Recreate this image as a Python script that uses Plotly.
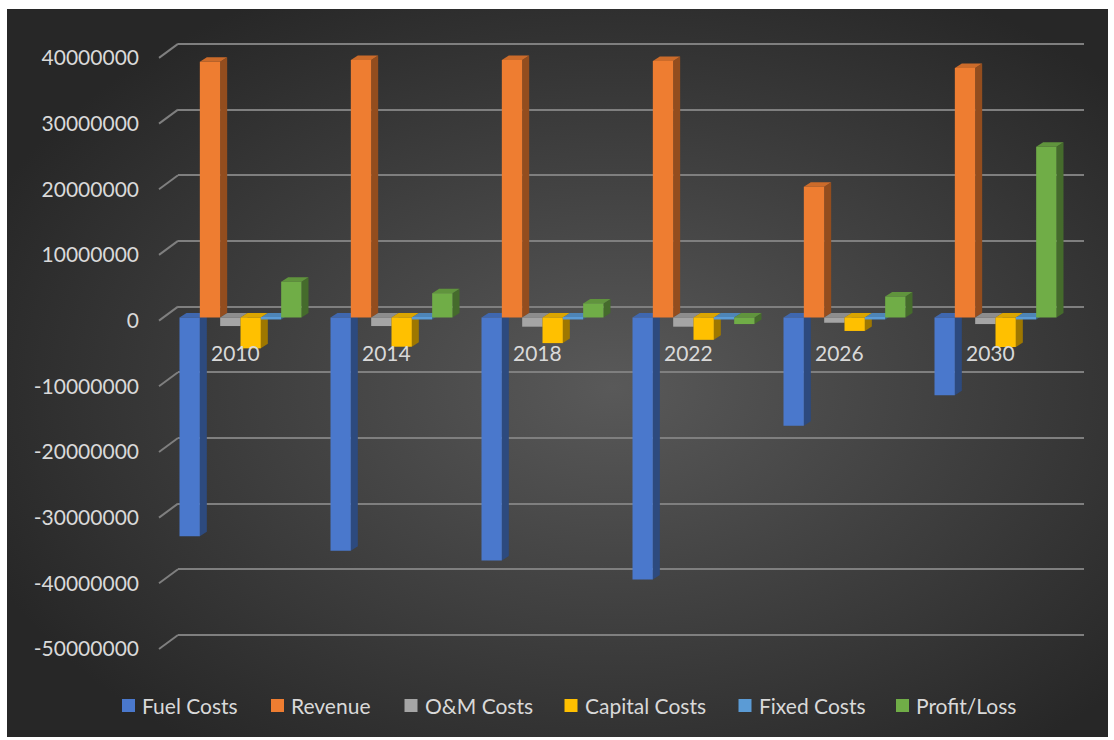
import base64
import plotly.graph_objects as go

# ---- data -------------------------------------------------------------
YEARS = ["2010", "2014", "2018", "2022", "2026", "2030"]
SERIES_NAMES = ["Fuel Costs", "Revenue", "O&M Costs", "Capital Costs", "Fixed Costs", "Profit/Loss"]
FUEL_COSTS = [-33300000, -35500000, -37000000, -39900000, -16500000, -11850000]
REVENUE = [38950000, 39200000, 39200000, 39050000, 19900000, 38000000]
OM_COSTS = [-1300000, -1300000, -1400000, -1400000, -800000, -1000000]
CAPITAL_COSTS = [-4700000, -4450000, -3900000, -3400000, -2050000, -4500000]
FIXED_COSTS = [-300000, -300000, -300000, -300000, -300000, -300000]
PROFIT_LOSS = [5450000, 3700000, 2150000, -1000000, 3200000, 26000000]
Y_TICKS = [-50000000, -40000000, -30000000, -20000000, -10000000, 0,
           10000000, 20000000, 30000000, 40000000]
Y_TICK_LABELS = [str(v) for v in Y_TICKS]

SERIES = [FUEL_COSTS, REVENUE, OM_COSTS, CAPITAL_COSTS, FIXED_COSTS, PROFIT_LOSS]
FRONT_COLORS = ["#4A78CC", "#EE7D31", "#A5A5A5", "#FFC000", "#5B9BD5", "#70AD47"]

FONT = "Lato"
FONT_SIZE = 21
TEXT_COLOR = "#D9D9D9"

# ---- geometry ----------------------------------------------------------
W, H = 1114, 740
L, R, T, B = 178, 30, 30, 60
PLOT_W, PLOT_H = W - L - R, H - T - B
N_CAT = len(YEARS)
PX_PER_CAT = PLOT_W / N_CAT
PX_PER_VAL = 6.567 / 1e6

FRONT_ZERO_PX = 320.6          # front plane (tick labels, gridline stubs)
WALL_DX, WALL_DY = 19, 14      # wall depth offset (back is right/up)
BACK_ZERO_PX = FRONT_ZERO_PX - WALL_DY
BAR_ZERO_PX = 317.5            # plane of the column front faces
BAR_SHIFT_PX = -13             # column plane shift relative to the back wall

GROUP_W = 122 / PX_PER_CAT
BAR_W = GROUP_W / len(SERIES)
DEPTH_DX_PX, DEPTH_DY_PX = 7, 4.5
DDX = DEPTH_DX_PX / PX_PER_CAT
DDY = DEPTH_DY_PX / PX_PER_VAL

# legend layout (pixel positions of each entry's swatch and label)
LEGEND_SWATCH_X = [122, 271, 404.5, 564.5, 738.5, 896]
LEGEND_TEXT_GAP = 19
LEGEND_CY = 705.5
SWATCH = 13


def y_range(zero_px):
    top = (zero_px - T) / PX_PER_VAL
    return [top - PLOT_H / PX_PER_VAL, top]


def px_to_paper_x(px):
    return (px - L) / PLOT_W


def px_to_paper_y(py):
    return (H - B - py) / PLOT_H


x0 = -(PX_PER_CAT / 2 + BAR_SHIFT_PX) / PX_PER_CAT
X_RANGE = [x0, x0 + N_CAT]


def shade(hex_color, f):
    h = hex_color.lstrip("#")
    r, g, b = (int(h[i:i + 2], 16) for i in (0, 2, 4))
    return "#{:02X}{:02X}{:02X}".format(int(r * f), int(g * f), int(b * f))


fig = go.Figure()

# side faces, then top faces (main subplot, drawn underneath the fronts)
for face in ("side", "top"):
    for j, (name, vals) in enumerate(zip(SERIES_NAMES, SERIES)):
        xs, ys = [], []
        for i, v in enumerate(vals):
            xl = i - GROUP_W / 2 + j * BAR_W
            xr = xl + BAR_W
            if face == "side":
                xs += [xr, xr + DDX, xr + DDX, xr, xr, None]
                ys += [0, DDY, v + DDY, v, 0, None]
            else:
                h = max(v, 0)
                xs += [xl, xr, xr + DDX, xl + DDX, xl, None]
                ys += [h, h, h + DDY, h + DDY, h, None]
        col = shade(FRONT_COLORS[j], 0.62 if face == "side" else 0.86)
        fig.add_trace(go.Scatter(
            x=xs, y=ys, mode="lines", fill="toself", fillcolor=col,
            line=dict(width=0, color=col), hoverinfo="skip",
            showlegend=False, xaxis="x", yaxis="y",
        ))

# column front faces
for j, (name, vals) in enumerate(zip(SERIES_NAMES, SERIES)):
    fig.add_trace(go.Bar(
        name=name, x=list(range(N_CAT)), y=vals,
        width=BAR_W, offset=-GROUP_W / 2 + j * BAR_W,
        marker=dict(color=FRONT_COLORS[j], line=dict(width=0)),
        xaxis="x", yaxis="y2", showlegend=False,
    ))

# keep the front-plane and back-wall axes alive
fig.add_trace(go.Scatter(x=[None], y=[None], xaxis="x", yaxis="y4",
                         showlegend=False, hoverinfo="skip"))
fig.add_trace(go.Scatter(x=[None], y=[None], xaxis="x", yaxis="y3",
                         showlegend=False, hoverinfo="skip"))

# dark radial background
svg = (
    '<svg xmlns="http://www.w3.org/2000/svg" width="1101" height="728">'
    '<defs><radialGradient id="g" cx="0.55" cy="0.52" r="0.62">'
    '<stop offset="0" stop-color="#595959"/>'
    '<stop offset="1" stop-color="#272727"/>'
    '</radialGradient></defs>'
    '<rect width="1101" height="728" fill="url(#g)"/></svg>'
)
bg_src = "data:image/svg+xml;base64," + base64.b64encode(svg.encode()).decode()
BG_X0, BG_Y0, BG_X1, BG_Y1 = 7, 9, 1108, 737

shapes = []
# front-edge stubs of the wall gridlines
for v in Y_TICKS:
    shapes.append(dict(
        type="line", xref="paper", yref="y3", ysizemode="pixel", yanchor=v,
        x0=-WALL_DX / PLOT_W, x1=0, y0=0, y1=WALL_DY,
        line=dict(color="#7F7F7F", width=2), layer="below",
    ))

annotations = []
for i, yr in enumerate(YEARS):
    annotations.append(dict(
        x=i, y=0, xref="x", yref="y3", text=yr, showarrow=False,
        xshift=-WALL_DX - BAR_SHIFT_PX + 1, yshift=-32,
        font=dict(family=FONT, size=FONT_SIZE, color=TEXT_COLOR),
    ))

# legend
for name, col, sx in zip(SERIES_NAMES, FRONT_COLORS, LEGEND_SWATCH_X):
    shapes.append(dict(
        type="rect", xref="paper", yref="paper",
        x0=px_to_paper_x(sx), x1=px_to_paper_x(sx + SWATCH),
        y0=px_to_paper_y(LEGEND_CY + SWATCH / 2), y1=px_to_paper_y(LEGEND_CY - SWATCH / 2),
        fillcolor=col, line=dict(width=0),
    ))
    annotations.append(dict(
        x=px_to_paper_x(sx + LEGEND_TEXT_GAP), y=px_to_paper_y(LEGEND_CY),
        xref="paper", yref="paper", xanchor="left", yanchor="middle",
        text=name, showarrow=False, borderpad=0,
        font=dict(family=FONT, size=FONT_SIZE, color=TEXT_COLOR),
    ))

hidden = dict(showgrid=False, zeroline=False, showticklabels=False, ticks="")

fig.update_layout(
    width=W, height=H,
    margin=dict(l=L, r=R, t=T, b=B, pad=0),
    paper_bgcolor="white", plot_bgcolor="rgba(0,0,0,0)",
    barmode="overlay",
    showlegend=False,
    font=dict(family=FONT, size=FONT_SIZE, color=TEXT_COLOR),
    xaxis=dict(range=X_RANGE, **hidden),
    yaxis=dict(range=y_range(BAR_ZERO_PX), **hidden),
    yaxis2=dict(range=y_range(BAR_ZERO_PX), overlaying="y", **hidden),
    yaxis3=dict(
        range=y_range(FRONT_ZERO_PX), overlaying="y", side="left",
        tickvals=Y_TICKS, ticktext=Y_TICK_LABELS, showgrid=False,
        zeroline=False, ticks="", ticklabelstandoff=38,
        tickfont=dict(family=FONT, size=FONT_SIZE, color=TEXT_COLOR),
    ),
    yaxis4=dict(
        range=y_range(BACK_ZERO_PX), overlaying="y", tickvals=Y_TICKS,
        showgrid=True, gridcolor="#7F7F7F", gridwidth=2,
        zeroline=False, showticklabels=False, ticks="",
    ),
    images=[dict(
        source=bg_src, xref="paper", yref="paper",
        x=px_to_paper_x(BG_X0), y=px_to_paper_y(BG_Y0),
        sizex=(BG_X1 - BG_X0) / PLOT_W, sizey=(BG_Y1 - BG_Y0) / PLOT_H,
        xanchor="left", yanchor="top", sizing="stretch", layer="below",
    )],
    shapes=shapes,
    annotations=annotations,
)

fig.write_html("out.html")
